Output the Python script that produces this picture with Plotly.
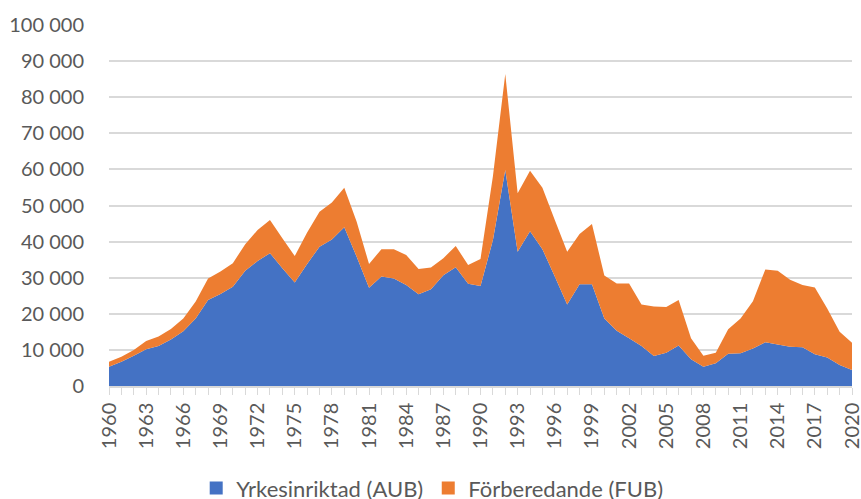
import plotly.graph_objects as go

years = list(range(1960, 2021))

aub = [5.3, 6.7, 8.4, 10.2, 11.1, 12.9, 15.2, 18.7, 23.8, 25.5,
       27.5, 31.9, 34.6, 36.8, 32.6, 28.7, 33.8, 38.6, 40.6, 44.0,
       35.8, 27.2, 30.3, 29.8, 28.0, 25.4, 26.8, 30.7, 32.9, 28.3,
       27.7, 40.4, 59.8, 37.2, 42.9, 37.9, 30.3, 22.6, 28.2, 28.2,
       18.7, 15.3, 13.2, 11.1, 8.3, 9.2, 11.2, 7.4, 5.3, 6.3,
       8.9, 9.1, 10.4, 12.1, 11.5, 10.9, 10.7, 8.8, 7.9, 5.8, 4.4]
total = [6.7, 8.1, 10.0, 12.5, 13.7, 15.8, 18.7, 23.4, 29.8, 31.7,
         34.0, 39.3, 43.2, 46.0, 40.9, 36.0, 42.5, 48.3, 50.8, 54.9,
         45.5, 33.8, 37.9, 37.9, 36.3, 32.4, 32.8, 35.4, 38.8, 33.5,
         35.2, 58.0, 86.4, 53.4, 59.6, 54.9, 46.0, 37.2, 42.1, 44.9,
         30.6, 28.4, 28.4, 22.6, 22.0, 21.9, 23.8, 13.2, 8.4, 9.2,
         15.7, 18.7, 23.5, 32.3, 31.9, 29.4, 28.0, 27.3, 21.5, 15.0, 12.0]

aub_vals = [round(a * 1000) for a in aub]
fub_vals = [round((t - a) * 1000) for t, a in zip(total, aub)]

series_names = ["Yrkesinriktad (AUB)", "Förberedande (FUB)"]
colors = ["#4472C4", "#ED7D31"]

font_family = "Lato, 'Open Sans', sans-serif"
text_color = "#595959"
grid_color = "#d9d9d9"

fig = go.Figure()
for name, vals, col in zip(series_names, [aub_vals, fub_vals], colors):
    fig.add_trace(go.Scatter(
        x=years, y=vals, name=name, mode="lines",
        stackgroup="one", line=dict(width=0, color=col),
        fillcolor=col, hovertemplate="%{x}: %{y}<extra></extra>",
        showlegend=False, legendgroup=name,
    ))
# legend-only entries with square swatches
for name, col in zip(series_names, colors):
    fig.add_trace(go.Scatter(
        x=[None], y=[None], name=name, mode="markers",
        marker=dict(symbol="square", size=13, color=col),
        showlegend=True, legendgroup=name,
    ))

fig.update_layout(
    width=861, height=499,
    margin=dict(l=109, r=9, t=25, b=113, autoexpand=False),
    paper_bgcolor="white", plot_bgcolor="white",
    separators=", ",
    font=dict(family=font_family, size=20, color=text_color),
    showlegend=True,
    legend=dict(orientation="h", x=0.435, xanchor="center", y=-0.283,
                yanchor="middle", font=dict(size=22, color=text_color),
                traceorder="normal", itemwidth=30, tracegroupgap=0),
)
fig.update_xaxes(
    range=[1960, 2020], tickmode="linear", tick0=1960, dtick=3,
    tickangle=-90, showgrid=False, zeroline=False, automargin=False,
    ticklabeloverflow="allow",
    showline=True, linecolor=grid_color, linewidth=1.5,
    ticks="outside", ticklen=7, tickcolor=grid_color, tickwidth=1,
    minor=dict(dtick=1, ticks="outside", ticklen=7, tickcolor=grid_color, tickwidth=1, showgrid=False),
    tickfont=dict(size=20, color=text_color),
)
fig.update_yaxes(
    range=[0, 100000], tickmode="linear", tick0=0, dtick=10000,
    tickformat=",d", showgrid=True, gridcolor=grid_color, gridwidth=1.5,
    zeroline=False, showline=False, ticks="", ticklabelstandoff=24,
    automargin=False,
    tickfont=dict(size=20, color=text_color),
)

fig.write_html(
    "out.html",
    config={"displayModeBar": False},
    post_script="document.body.style.margin='0';document.body.style.overflow='hidden';",
)
